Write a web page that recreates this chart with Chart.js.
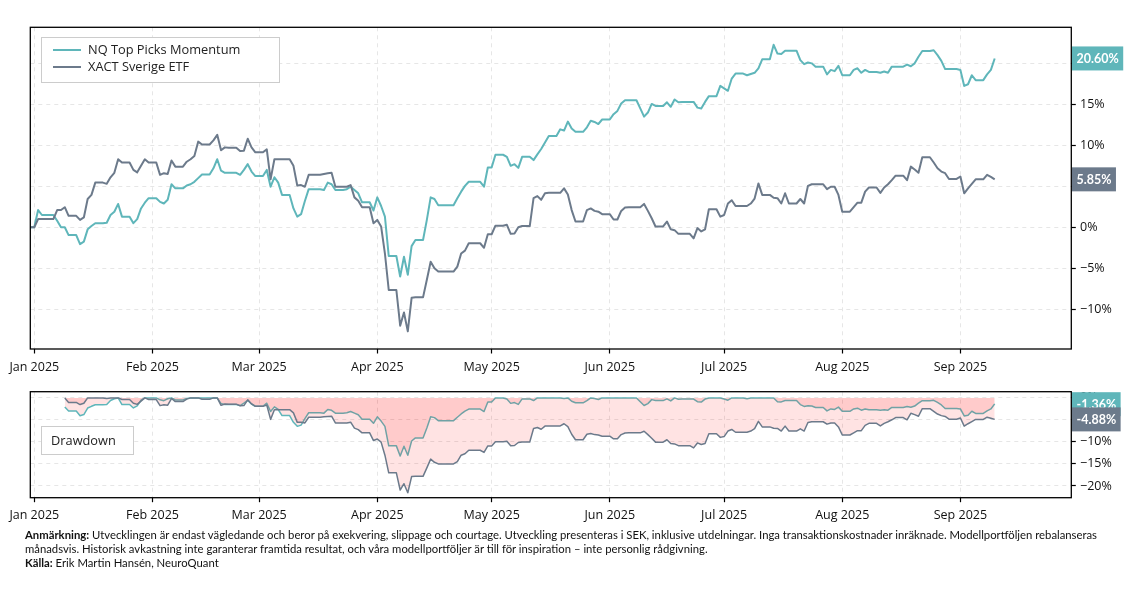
<!DOCTYPE html>
<html>
<head>
<meta charset="utf-8">
<script src="https://cdn.jsdelivr.net/npm/chart.js@4.4.1/dist/chart.umd.min.js"></script>
<style>
  html, body { margin: 0; padding: 0; background: #fff; }
  body { width: 1147px; height: 593px; position: relative; overflow: hidden; }
  #main { position: absolute; left: 0; top: 0; }
  #dd { position: absolute; left: 0; top: 380px; }
  .note { position: absolute; left: 25px; top: 528px; font: 11.3px/14px Lato, sans-serif; color: #111; white-space: nowrap; }
</style>
</head>
<body>
<canvas id="main" width="1147" height="380"></canvas>
<canvas id="dd" width="1147" height="150"></canvas>
<div class="note">
  <b>Anmärkning:</b> Utvecklingen är endast vägledande och beror på exekvering, slippage och courtage. Utveckling presenteras i SEK, inklusive utdelningar. Inga transaktionskostnader inräknade. Modellportföljen rebalanseras<br>
  månadsvis. Historisk avkastning inte garanterar framtida resultat, och våra modellportföljer är till för inspiration – inte personlig rådgivning.<br>
  <b>Källa:</b> Erik Martin Hansén, NeuroQuant
</div>
<script>
// day numbers: 0 = 1 Jan 2025, one value per calendar day (weekends/holidays carry the last close)
const firstDay = -1;
const ddFirstDay = 8;
const monthStarts = [0, 31, 59, 90, 120, 151, 181, 212, 243];
const monthLabels = ['Jan 2025', 'Feb 2025', 'Mar 2025', 'Apr 2025', 'May 2025', 'Jun 2025', 'Jul 2025', 'Aug 2025', 'Sep 2025'];
const mainTicks = [-10, -5, 0, 5, 10, 15, 20];
const ddTicks = [-20, -15, -10, -5, 0];
const seriesNames = ['NQ Top Picks Momentum', 'XACT Sverige ETF'];

// cumulative return, %
const nqReturn = [
  0, 0, 2.1, 1.5, 1.5, 1.5, 1.5,
  0.8, 0.0, 0.0, -0.95, -0.95, -0.95, -2.05,
  -1.75, -0.25, 0.15, 0.5, 0.5, 0.5, 0.55,
  1.5, 1.9, 2.85, 1.3, 1.3, 1.3, 0.5,
  1.0, 2.3, 3.0, 3.55, 3.55, 3.55, 3.1,
  2.9, 3.35, 5.25, 4.75, 4.75, 4.75, 5.1,
  5.25, 5.55, 6.0, 6.45, 6.45, 6.45, 7.2,
  8.3, 6.9, 6.65, 6.65, 6.65, 6.65, 6.4,
  7.0, 7.7, 6.8, 6.25, 6.25, 6.25, 7.0,
  4.95, 6.1, 5.45, 3.95, 3.95, 3.95, 2.3,
  1.3, 1.6, 3.2, 4.65, 4.65, 4.65, 4.65,
  4.55, 5.45, 5.25, 4.55, 4.55, 4.55, 4.65,
  4.95, 4.55, 4.15, 3.05, 3.05, 3.05, 2.05,
  3.65, 2.6, 1.3, -3.5, -3.5, -3.5, -6.0,
  -3.6, -5.8, -2.3, -1.55, -1.55, -1.55, 0.9,
  3.65, 3.45, 2.7, 2.7, 2.7, 2.7, 2.7,
  3.55, 4.35, 5.05, 5.55, 5.55, 5.55, 5.55,
  4.95, 7.3, 7.3, 8.85, 8.85, 8.85, 8.6,
  7.5, 7.7, 7.25, 8.6, 8.6, 8.6, 8.2,
  8.9, 9.55, 10.35, 11.15, 11.15, 11.15, 11.95,
  11.8, 12.9, 12.05, 11.65, 11.65, 11.65, 12.2,
  13.0, 12.85, 12.6, 13.15, 13.15, 13.15, 13.8,
  14.2, 15.1, 15.5, 15.5, 15.5, 15.5, 14.5,
  13.5, 14.0, 15.05, 14.8, 14.8, 14.8, 15.25,
  14.7, 15.6, 15.25, 15.3, 15.3, 15.3, 15.3,
  14.6, 14.5, 15.3, 16.0, 16.0, 16.0, 17.25,
  16.95, 16.65, 18.15, 18.75, 18.75, 18.75, 18.55,
  18.7, 18.85, 19.4, 20.5, 20.5, 20.5, 22.26,
  21.2, 21.15, 21.55, 21.55, 21.55, 21.55, 20.4,
  19.9, 20.1, 20.0, 19.6, 19.6, 19.6, 18.65,
  19.2, 19.05, 19.7, 18.55, 18.55, 18.55, 19.2,
  19.4, 18.85, 19.2, 18.95, 18.95, 18.95, 18.85,
  19.0, 18.85, 19.6, 19.6, 19.6, 19.6, 19.85,
  19.65, 20.0, 20.8, 21.5, 21.5, 21.5, 21.6,
  21.0, 20.3, 19.3, 19.3, 19.3, 19.3, 19.2,
  17.25, 17.45, 18.55, 17.95, 17.95, 17.95, 18.65,
  19.2, 20.6
];
const xactReturn = [
  0, 0, 1.0, 1.0, 1.0, 1.0, 1.0,
  2.1, 2.1, 2.45, 1.4, 1.4, 1.4, 0.9,
  1.2, 3.45, 3.95, 5.45, 5.45, 5.45, 5.3,
  6.1, 6.65, 8.3, 7.9, 7.9, 7.9, 7.0,
  6.7, 7.5, 8.3, 7.9, 7.9, 7.9, 6.4,
  6.6, 6.5, 8.15, 7.4, 7.4, 7.4, 8.0,
  8.3, 8.7, 10.45, 10.1, 10.1, 10.1, 10.6,
  11.28, 9.4, 9.75, 9.7, 9.7, 9.7, 9.3,
  9.35, 10.8, 9.75, 9.15, 9.15, 9.15, 9.5,
  5.85, 8.3, 8.3, 8.3, 8.3, 8.3, 7.5,
  5.1, 5.15, 4.95, 6.4, 6.4, 6.4, 6.4,
  6.5, 6.6, 6.65, 4.95, 4.95, 4.95, 4.95,
  5.15, 3.65, 3.25, 2.45, 2.45, 2.45, 0.5,
  0.9, 0.1, -3.2, -7.65, -7.65, -7.65, -12.0,
  -10.4, -12.7, -8.6, -8.55, -8.55, -8.55, -6.4,
  -4.2, -5.0, -5.4, -5.4, -5.4, -5.4, -5.4,
  -4.8, -3.2, -2.85, -1.95, -1.95, -1.95, -1.95,
  -2.5, -0.85, -0.85, 0.2, 0.2, 0.2, 0.3,
  -0.8, -0.75, 0.0, 0.15, 0.15, 0.15, 3.55,
  3.8, 3.35, 4.15, 4.2, 4.2, 4.2, 4.2,
  4.75, 4.0, 2.1, 0.7, 0.7, 0.7, 2.1,
  2.3, 2.0, 1.9, 1.6, 1.6, 1.6, 0.95,
  0.95, 2.0, 2.4, 2.45, 2.45, 2.45, 2.45,
  2.85, 2.0, 1.1, 0.1, 0.1, 0.1, 0.7,
  -0.25, -0.35, -0.8, -0.8, -0.8, -0.8, -1.35,
  -0.1, -0.5, -0.25, 2.2, 2.2, 2.2, 1.3,
  1.5, 2.9, 3.3, 2.6, 2.6, 2.6, 2.6,
  2.9, 3.5, 5.35, 3.95, 3.95, 3.95, 3.6,
  3.55, 2.9, 4.15, 2.9, 2.9, 2.9, 3.45,
  2.9, 5.05, 5.25, 5.25, 5.25, 5.25, 4.65,
  4.95, 4.95, 3.95, 1.9, 1.9, 1.9, 2.45,
  3.0, 3.0, 4.35, 4.85, 4.85, 4.85, 4.2,
  4.85, 5.25, 5.75, 6.3, 6.3, 6.3, 5.75,
  7.4, 7.05, 6.65, 8.55, 8.55, 8.55, 7.9,
  7.2, 6.8, 6.6, 5.9, 5.9, 5.9, 6.2,
  4.15, 4.75, 5.3, 5.85, 5.85, 5.85, 6.4,
  6.15, 5.85
];

const TEAL = '#5fb6ba';
const SLATE = '#6c7a8b';
const W = 1147, PLOT_LEFT = 30.3, PLOT_RIGHT = 1071.3;
const TICK_FONT = { family: 'Open Sans', size: 12.5 };

// drawdown from running peak, shown from ddFirstDay on
function drawdown(vals) {
  let peak = -Infinity;
  return vals.map((v, i) => {
    peak = Math.max(peak, v);
    return firstDay + i < ddFirstDay ? null : ((100 + v) / (100 + peak) - 1) * 100;
  });
}
const pts = vals => vals.map((v, i) => ({ x: firstDay + i, y: v }));
const pct = v => (v < 0 ? '\u2212' + Math.abs(v) : v) + '%';
const last = a => a[a.length - 1];

function xScale(h) {
  return {
    type: 'linear', min: -1.05, max: 272.1,
    afterBuildTicks: s => { s.ticks = monthStarts.map(v => ({ value: v })); },
    afterFit: s => { s.height = h; },
    ticks: { autoSkip: false, maxRotation: 0, padding: 6, color: '#111', font: TICK_FONT,
             callback: (v, i) => monthLabels[i] },
    grid: { color: '#e6e6e6', lineWidth: 1, tickLength: 4.5, tickColor: '#000', tickWidth: 1.2 },
    border: { display: false, dash: [4, 4] }
  };
}
function yScale(min, max, ticks) {
  return {
    position: 'right', min: min, max: max,
    afterBuildTicks: s => { s.ticks = ticks.map(v => ({ value: v })); },
    afterFit: s => { s.width = W - PLOT_RIGHT; },
    ticks: { autoSkip: false, padding: 4.2, color: '#111', font: TICK_FONT, callback: pct },
    grid: { color: '#e6e6e6', lineWidth: 1, tickLength: 4.5, tickColor: '#000', tickWidth: 1.2 },
    border: { display: false, dash: [4, 4] }
  };
}

// frame, legend box and end-value tags
function makeDecor(legend, tags) {
  return {
    id: 'decor',
    afterDraw(chart) {
      const { ctx, chartArea: a } = chart;
      const y = chart.scales.y;
      ctx.save();
      ctx.strokeStyle = '#000'; ctx.lineWidth = 1.3;
      ctx.strokeRect(a.left, a.top, a.right - a.left, a.bottom - a.top);

      ctx.fillStyle = '#fff';
      ctx.fillRect(legend.x, legend.y, legend.w, legend.h);
      ctx.strokeStyle = '#cccccc'; ctx.lineWidth = 1;
      ctx.strokeRect(legend.x, legend.y, legend.w, legend.h);
      ctx.font = '12.8px "Open Sans"';
      ctx.textBaseline = 'middle'; ctx.textAlign = 'left';
      legend.items.forEach((it, i) => {
        const yy = legend.y + legend.first + i * 17;
        if (it.color) {
          ctx.strokeStyle = it.color; ctx.lineWidth = 2;
          ctx.beginPath(); ctx.moveTo(legend.x + 11.5, yy); ctx.lineTo(legend.x + 39.5, yy); ctx.stroke();
        }
        ctx.fillStyle = '#222';
        ctx.fillText(it.text, legend.x + legend.tx, yy + 0.5);
      });

      ctx.font = 'bold 12.5px Lato';
      ctx.textAlign = 'center';
      tags.forEach(t => {
        const w = ctx.measureText(t.text).width + 9, h = 24;
        const top = Math.max(a.top + 0.5, y.getPixelForValue(t.value) - h / 2);
        ctx.fillStyle = t.color;
        ctx.fillRect(a.right + 0.7, top, w, h);
        ctx.fillStyle = '#fff';
        ctx.fillText(t.text, a.right + 0.7 + w / 2, top + h / 2 + 0.5);
      });
      ctx.restore();
    }
  };
}

const baseOptions = (padTop, xh, ymin, ymax, yt) => ({
  responsive: false, animation: false,
  layout: { padding: { left: PLOT_LEFT, top: padTop, right: 0, bottom: 0 } },
  elements: { point: { radius: 0 }, line: { tension: 0, borderJoinStyle: 'round' } },
  plugins: { legend: { display: false }, tooltip: { enabled: false } },
  scales: { x: xScale(xh), y: yScale(ymin, ymax, yt) }
});

new Chart(document.getElementById('main'), {
  type: 'line',
  data: { datasets: [
    { label: seriesNames[0], data: pts(nqReturn), borderColor: TEAL, borderWidth: 2, order: 1 },
    { label: seriesNames[1], data: pts(xactReturn), borderColor: SLATE, borderWidth: 2, order: 0 }
  ]},
  options: baseOptions(27.3, 380 - 349, -14.85, 24.4, mainTicks),
  plugins: [makeDecor(
    { x: 41.5, y: 37.5, w: 238, h: 45, first: 12.5, tx: 46.5,
      items: [{ text: seriesNames[0], color: TEAL }, { text: seriesNames[1], color: SLATE }] },
    [{ value: last(nqReturn), text: last(nqReturn).toFixed(2) + '%', color: TEAL },
     { value: last(xactReturn), text: last(xactReturn).toFixed(2) + '%', color: SLATE }]
  )]
});

const nqDD = drawdown(nqReturn);
const xactDD = drawdown(xactReturn);
new Chart(document.getElementById('dd'), {
  type: 'line',
  data: { datasets: [
    { label: seriesNames[0], data: pts(nqDD), borderColor: TEAL, borderWidth: 1.5,
      fill: 'origin', backgroundColor: 'rgba(255,0,0,0.11)', order: 1 },
    { label: seriesNames[1], data: pts(xactDD), borderColor: SLATE, borderWidth: 1.5,
      fill: 'origin', backgroundColor: 'rgba(255,0,0,0.11)', order: 0 }
  ]},
  options: baseOptions(5.3, 150 - 117.7, -22.67, 1.41, ddTicks),
  plugins: [makeDecor(
    { x: 41.5, y: 46.5, w: 92, h: 28, first: 14, tx: 9.5, items: [{ text: 'Drawdown' }] },
    [{ value: last(nqDD), text: last(nqDD).toFixed(2) + '%', color: TEAL },
     { value: last(xactDD), text: last(xactDD).toFixed(2) + '%', color: SLATE }]
  )]
});
</script>
</body>
</html>
